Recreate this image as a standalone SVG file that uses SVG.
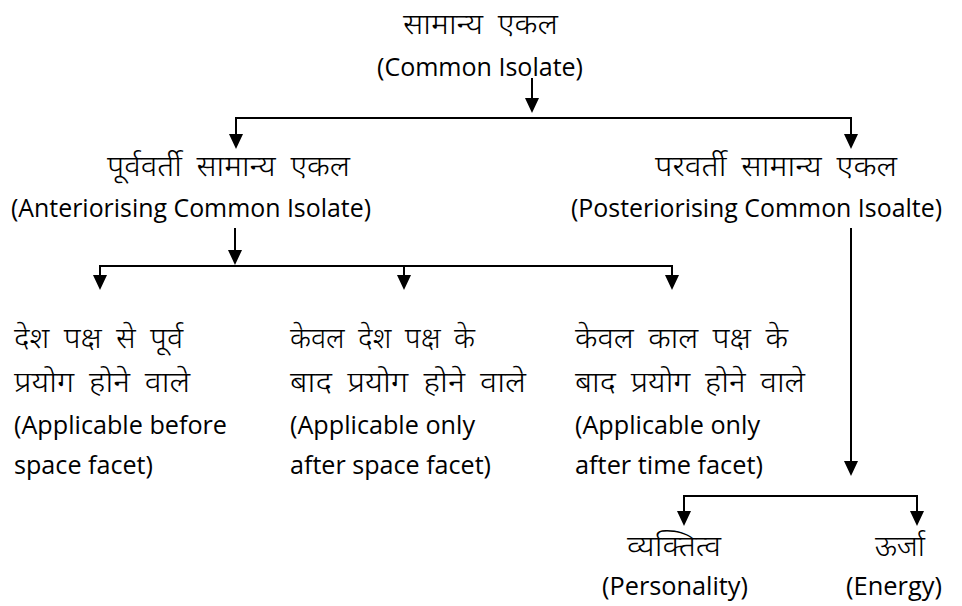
<svg xmlns="http://www.w3.org/2000/svg" width="962" height="606" viewBox="0 0 962 606">
<style>
.en{font-family:"Open Sans","Liberation Sans",sans-serif;font-size:26px;fill:#000}
.hi{font-family:"Noto Sans Devanagari","Lohit Devanagari","Noto Sans","Liberation Sans",sans-serif;font-size:29px;font-weight:350;word-spacing:6px;fill:#000}
.ln{stroke:#000;stroke-width:2;fill:none}
.ar{stroke:#000;stroke-width:2;fill:none;marker-end:url(#ah)}
</style>
<defs>
<marker id="ah" viewBox="0 0 15 14" refX="12" refY="7" markerWidth="15" markerHeight="14" markerUnits="userSpaceOnUse" orient="auto">
<path d="M0,0 L15,7 L0,14 z" fill="#000"/>
</marker>
</defs>
<rect width="962" height="606" fill="#fff"/>
<g id="connectors">
<line class="ar" x1="532" y1="78" x2="532" y2="110"/>
<line class="ln" x1="235" y1="118" x2="852" y2="118"/>
<line class="ar" x1="236" y1="117" x2="236" y2="146"/>
<line class="ar" x1="851" y1="117" x2="851" y2="146"/>
<line class="ar" x1="235" y1="228" x2="235" y2="262"/>
<line class="ln" x1="99" y1="266" x2="673" y2="266"/>
<line class="ar" x1="100" y1="265" x2="100" y2="287"/>
<line class="ar" x1="404" y1="265" x2="404" y2="287"/>
<line class="ar" x1="672" y1="265" x2="672" y2="287"/>
<line class="ar" x1="851" y1="228" x2="851" y2="473"/>
<line class="ln" x1="683" y1="496" x2="918" y2="496"/>
<line class="ar" x1="684" y1="495" x2="684" y2="523"/>
<line class="ar" x1="917" y1="495" x2="917" y2="523"/>
</g>
<g id="root">
<text class="hi" x="403" y="34" textLength="155" lengthAdjust="spacingAndGlyphs">सामान्य एकल</text>
<text class="en" x="377" y="76" textLength="206" lengthAdjust="spacingAndGlyphs">(Common Isolate)</text>
</g>
<g id="anteriorising">
<text class="hi" x="107" y="176" textLength="243" lengthAdjust="spacingAndGlyphs">पूर्ववर्ती सामान्य एकल</text>
<text class="en" x="11" y="217" textLength="360" lengthAdjust="spacingAndGlyphs">(Anteriorising Common Isolate)</text>
</g>
<g id="posteriorising">
<text class="hi" x="655" y="176" textLength="242" lengthAdjust="spacingAndGlyphs">परवर्ती सामान्य एकल</text>
<text class="en" x="571" y="217" textLength="371" lengthAdjust="spacingAndGlyphs">(Posteriorising Common Isoalte)</text>
</g>
<g id="before-space">
<text class="hi" x="14" y="348" textLength="169" lengthAdjust="spacingAndGlyphs">देश पक्ष से पूर्व</text>
<text class="hi" x="14" y="392" textLength="176" lengthAdjust="spacingAndGlyphs">प्रयोग होने वाले</text>
<text class="en" x="14" y="434" textLength="213" lengthAdjust="spacingAndGlyphs">(Applicable before</text>
<text class="en" x="14" y="474" textLength="139" lengthAdjust="spacingAndGlyphs">space facet)</text>
</g>
<g id="after-space">
<text class="hi" x="290" y="348" textLength="185" lengthAdjust="spacingAndGlyphs">केवल देश पक्ष के</text>
<text class="hi" x="290" y="392" textLength="236" lengthAdjust="spacingAndGlyphs">बाद प्रयोग होने वाले</text>
<text class="en" x="290" y="434" textLength="185" lengthAdjust="spacingAndGlyphs">(Applicable only</text>
<text class="en" x="290" y="474" textLength="201" lengthAdjust="spacingAndGlyphs">after space facet)</text>
</g>
<g id="after-time">
<text class="hi" x="575" y="348" textLength="213" lengthAdjust="spacingAndGlyphs">केवल काल पक्ष के</text>
<text class="hi" x="575" y="392" textLength="230" lengthAdjust="spacingAndGlyphs">बाद प्रयोग होने वाले</text>
<text class="en" x="575" y="434" textLength="185" lengthAdjust="spacingAndGlyphs">(Applicable only</text>
<text class="en" x="575" y="474" textLength="188" lengthAdjust="spacingAndGlyphs">after time facet)</text>
</g>
<g id="personality">
<text class="hi" x="627" y="556" textLength="94" lengthAdjust="spacingAndGlyphs">व्यक्तित्व</text>
<text class="en" x="602" y="595" textLength="146" lengthAdjust="spacingAndGlyphs">(Personality)</text>
</g>
<g id="energy">
<text class="hi" x="875" y="556" textLength="50" lengthAdjust="spacingAndGlyphs">ऊर्जा</text>
<text class="en" x="846" y="595" textLength="96" lengthAdjust="spacingAndGlyphs">(Energy)</text>
</g>
</svg>
